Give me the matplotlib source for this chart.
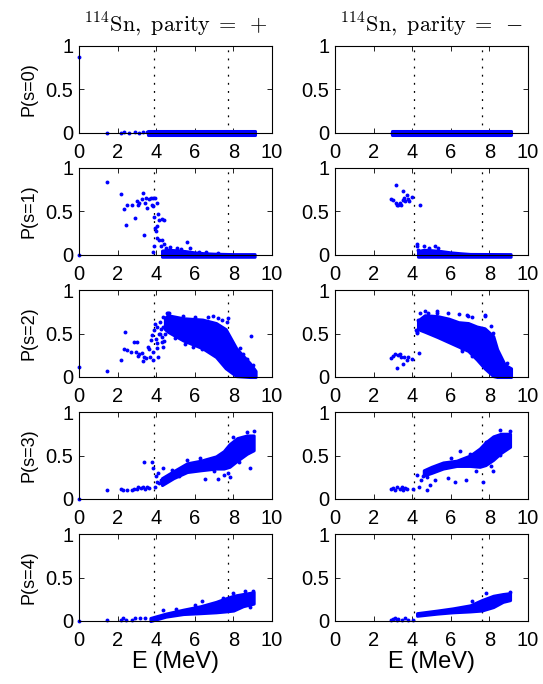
import matplotlib
matplotlib.use('Agg')
import matplotlib.pyplot as plt

plt.rcParams['font.family'] = ['Liberation Sans', 'DejaVu Sans']
plt.rcParams['mathtext.fontset'] = 'cm'

BLUE = (0, 0, 1)

# energies of the dashed vertical markers
lines_plus = [3.9, 7.7]
lines_minus = [4.1, 7.6]

# ---- parity = +  ----
plus_s0_E = [0.0, 1.43, 2.2, 2.35, 2.6, 2.9, 3.1, 3.3, 3.5]
plus_s0_P = [0.87, 0.0, 0.0, 0.012, 0.0, 0.01, 0.0, 0.015, 0.01]
plus_s0_bandE = [3.6, 9.1]
plus_s0_lo = [-0.02, -0.02]
plus_s0_hi = [0.025, 0.025]

plus_s1_E = [0.0, 1.43, 2.18, 2.33, 2.41, 2.50, 2.75, 2.89, 2.98, 3.04, 3.13, 3.25,
             3.30, 3.37, 3.42, 3.45, 3.50, 3.62, 3.71, 3.76, 3.81, 3.85, 3.88, 3.93,
             3.93, 3.98, 4.02, 4.05, 4.10, 4.16, 4.28, 4.40, 4.02, 4.16, 4.23, 4.31,
             3.90, 3.85, 4.40, 4.50, 5.58, 5.75, 4.7, 5.1, 5.3, 6.2, 6.6, 7.2]
plus_s1_P = [0.0, 0.84, 0.70, 0.53, 0.34, 0.58, 0.58, 0.43, 0.62, 0.57, 0.60, 0.64,
             0.71, 0.23, 0.60, 0.65, 0.54, 0.64, 0.65, 0.58, 0.56, 0.65, 0.44, 0.65,
             0.31, 0.28, 0.33, 0.60, 0.47, 0.40, 0.41, 0.40, 0.19, 0.17, 0.10, 0.17,
             0.10, 0.04, 0.13, 0.08, 0.15, 0.08, 0.09, 0.08, 0.07, 0.04, 0.03, 0.02]
plus_s1_bandE = [4.3, 4.6, 5.0, 5.5, 6.0, 6.5, 7.0, 8.0, 9.1]
plus_s1_lo = [-0.02] * 9
plus_s1_hi = [0.05, 0.06, 0.055, 0.045, 0.03, 0.02, 0.015, 0.01, 0.01]

plus_s2_E = [0.0, 1.43, 2.16, 2.33, 2.39, 2.50, 2.69, 2.85, 2.95, 3.02, 3.04, 3.13,
             3.25, 3.30, 3.37, 3.47, 3.56, 3.62, 3.68, 3.71, 3.76, 3.81, 3.85, 3.88,
             3.93, 3.97, 4.02, 4.05, 4.10, 4.16, 4.19, 4.23, 4.28, 4.33, 4.37, 4.40,
             4.45, 4.54, 4.59, 4.66, 8.90, 7.74, 7.65, 4.63, 5.38, 6.96, 7.22, 7.39,
             7.82, 8.34, 8.0, 6.35, 5.50, 4.98, 4.2, 4.29, 4.37, 4.02, 6.0, 6.7, 5.9,
             7.5, 8.5, 8.7, 9.0]
plus_s2_P = [0.12, 0.07, 0.19, 0.32, 0.52, 0.31, 0.29, 0.40, 0.29, 0.40, 0.24, 0.26,
             0.28, 0.18, 0.23, 0.22, 0.34, 0.32, 0.23, 0.42, 0.48, 0.29, 0.20, 0.54,
             0.61, 0.44, 0.57, 0.39, 0.23, 0.50, 0.63, 0.55, 0.46, 0.58, 0.69, 0.41,
             0.50, 0.73, 0.66, 0.73, 0.47, 0.68, 0.63, 0.73, 0.70, 0.70, 0.68, 0.65,
             0.36, 0.33, 0.28, 0.32, 0.38, 0.45, 0.49, 0.40, 0.35, 0.33, 0.69, 0.69, 0.35,
             0.15, 0.26, 0.21, 0.14]
plus_s2_bandE = [4.45, 4.6, 5.4, 6.4, 7.1, 7.6, 8.15, 8.85, 9.15]
plus_s2_lo = [0.55, 0.52, 0.42, 0.33, 0.23, 0.10, 0.01, 0.0, 0.0]
plus_s2_hi = [0.68, 0.71, 0.675, 0.66, 0.62, 0.55, 0.33, 0.16, 0.07]

plus_s3_E = [0.0, 1.43, 2.16, 2.30, 2.47, 2.73, 2.85, 2.99, 3.08, 3.20, 3.30, 3.37,
             3.42, 3.54, 3.64, 3.76, 3.85, 3.93, 3.98, 4.02, 4.10, 4.16, 4.25, 4.37,
             8.88, 6.52, 7.22, 7.82, 9.06, 8.69, 8.0, 6.27, 5.58, 4.8, 5.2, 7.0, 7.5,
             7.7, 8.3]
plus_s3_P = [0.0, 0.10, 0.11, 0.105, 0.10, 0.105, 0.12, 0.11, 0.14, 0.125, 0.14, 0.42,
             0.11, 0.14, 0.125, 0.42, 0.36, 0.14, 0.26, 0.20, 0.30, 0.18, 0.22, 0.36,
             0.36, 0.23, 0.23, 0.25, 0.78, 0.77, 0.71, 0.47, 0.45, 0.33, 0.26, 0.32,
             0.28, 0.30, 0.42]
plus_s3_bandE = [4.3, 4.9, 5.6, 6.3, 7.1, 7.5, 7.8, 8.2, 8.7, 9.05]
plus_s3_lo = [0.16, 0.24, 0.31, 0.33, 0.35, 0.35, 0.37, 0.44, 0.52, 0.56]
plus_s3_hi = [0.24, 0.32, 0.41, 0.44, 0.49, 0.55, 0.63, 0.70, 0.73, 0.73]

plus_s4_E = [0.0, 1.43, 2.16, 2.30, 2.44, 2.73, 2.90, 3.16, 3.42, 4.37, 6.36, 7.48, 8.88,
             7.98, 9.04, 8.6, 5.0, 6.0]
plus_s4_P = [0.0, 0.01, 0.015, 0.03, 0.015, 0.015, 0.03, 0.03, 0.04, 0.13, 0.23, 0.26, 0.16,
             0.32, 0.35, 0.34, 0.14, 0.18]
plus_s4_bandE = [3.7, 4.5, 5.4, 6.3, 7.1, 7.6, 8.0, 8.5, 9.05]
plus_s4_lo = [0.0, 0.05, 0.08, 0.09, 0.10, 0.11, 0.12, 0.17, 0.20]
plus_s4_hi = [0.035, 0.085, 0.13, 0.17, 0.22, 0.26, 0.29, 0.31, 0.33]

# ---- parity = -  ----
minus_s0_E = [2.94]
minus_s0_P = [0.0]
minus_s0_bandE = [2.95, 9.1]
minus_s0_lo = [-0.02, -0.02]
minus_s0_hi = [0.022, 0.022]

minus_s1_E = [2.90, 3.02, 3.16, 3.16, 3.19, 3.28, 3.37, 3.42, 3.51, 3.54, 3.59, 3.63,
              3.71, 3.77, 3.85, 3.97, 4.40, 4.27, 4.27, 4.30, 4.63, 4.89, 5.18, 5.32]
minus_s1_P = [0.64, 0.63, 0.60, 0.81, 0.57, 0.58, 0.60, 0.57, 0.63, 0.73, 0.65, 0.62,
              0.69, 0.64, 0.62, 0.67, 0.57, 0.10, 0.13, 0.06, 0.10, 0.08, 0.10, 0.08]
minus_s1_bandE = [4.3, 4.6, 5.0, 5.5, 6.0, 6.5, 7.0, 9.1]
minus_s1_lo = [-0.02] * 8
minus_s1_hi = [0.045, 0.06, 0.055, 0.045, 0.03, 0.02, 0.012, 0.01]

minus_s2_E = [2.90, 2.99, 3.11, 3.19, 3.25, 3.37, 3.42, 3.54, 3.57, 3.71, 3.77, 4.01,
              4.20, 4.23, 4.35, 4.32, 4.40, 4.58, 4.84, 5.28, 5.88, 6.40, 6.83, 7.09,
              7.77, 8.17, 8.06, 6.57, 7.17, 4.66, 5.27, 6.91, 7.77, 4.23, 6.56, 7.08,
              8.11, 8.29, 8.03, 8.20, 7.86, 8.6, 8.9]
minus_s2_P = [0.22, 0.24, 0.27, 0.10, 0.25, 0.27, 0.23, 0.15, 0.23, 0.20, 0.23, 0.21,
              0.54, 0.52, 0.28, 0.65, 0.73, 0.59, 0.74, 0.74, 0.73, 0.72, 0.71, 0.69,
              0.71, 0.51, 0.59, 0.30, 0.27, 0.76, 0.76, 0.70, 0.70, 0.51, 0.32, 0.24,
              0.24, 0.28, 0.36, 0.33, 0.44, 0.20, 0.16]
minus_s2_bandE = [4.3, 4.65, 5.3, 5.9, 6.4, 6.9, 7.35, 7.75, 8.2, 8.4, 8.8, 9.12]
minus_s2_lo = [0.55, 0.52, 0.46, 0.40, 0.35, 0.30, 0.20, 0.10, 0.01, 0.0, 0.0, 0.0]
minus_s2_hi = [0.65, 0.71, 0.70, 0.67, 0.63, 0.62, 0.58, 0.56, 0.47, 0.32, 0.14, 0.10]

minus_s3_E = [2.90, 2.99, 3.11, 3.23, 3.37, 3.46, 3.54, 3.63, 3.75, 4.03, 4.23, 4.35,
              4.44, 4.58, 4.75, 4.75, 4.93, 5.18, 5.87, 6.21, 6.50, 6.81, 7.33, 7.67,
              8.10, 8.19, 8.53, 8.55, 9.07, 7.84, 6.0, 7.0]
minus_s3_P = [0.11, 0.125, 0.105, 0.14, 0.11, 0.14, 0.10, 0.125, 0.11, 0.11, 0.28, 0.14,
              0.22, 0.26, 0.10, 0.25, 0.16, 0.22, 0.24, 0.20, 0.55, 0.22, 0.32, 0.20,
              0.38, 0.32, 0.51, 0.79, 0.78, 0.65, 0.47, 0.52]
minus_s3_bandE = [4.6, 5.0, 5.6, 6.3, 7.0, 7.5, 7.8, 8.2, 8.6, 9.07]
minus_s3_lo = [0.27, 0.30, 0.35, 0.38, 0.38, 0.37, 0.39, 0.45, 0.53, 0.60]
minus_s3_hi = [0.33, 0.37, 0.42, 0.44, 0.50, 0.58, 0.65, 0.72, 0.75, 0.75]

minus_s4_E = [2.90, 3.00, 3.11, 3.20, 3.28, 3.46, 3.63, 3.80, 4.06, 7.09, 7.84, 9.07]
minus_s4_P = [0.015, 0.025, 0.03, 0.015, 0.025, 0.015, 0.03, 0.015, 0.015, 0.23, 0.32, 0.33]
minus_s4_bandE = [4.25, 5.3, 6.1, 7.0, 7.6, 8.2, 8.7, 9.07]
minus_s4_lo = [0.06, 0.085, 0.10, 0.11, 0.12, 0.16, 0.22, 0.24]
minus_s4_hi = [0.09, 0.12, 0.145, 0.18, 0.24, 0.29, 0.31, 0.32]

plus_panels = [
    (plus_s0_E, plus_s0_P, plus_s0_bandE, plus_s0_lo, plus_s0_hi),
    (plus_s1_E, plus_s1_P, plus_s1_bandE, plus_s1_lo, plus_s1_hi),
    (plus_s2_E, plus_s2_P, plus_s2_bandE, plus_s2_lo, plus_s2_hi),
    (plus_s3_E, plus_s3_P, plus_s3_bandE, plus_s3_lo, plus_s3_hi),
    (plus_s4_E, plus_s4_P, plus_s4_bandE, plus_s4_lo, plus_s4_hi),
]
minus_panels = [
    (minus_s0_E, minus_s0_P, minus_s0_bandE, minus_s0_lo, minus_s0_hi),
    (minus_s1_E, minus_s1_P, minus_s1_bandE, minus_s1_lo, minus_s1_hi),
    (minus_s2_E, minus_s2_P, minus_s2_bandE, minus_s2_lo, minus_s2_hi),
    (minus_s3_E, minus_s3_P, minus_s3_bandE, minus_s3_lo, minus_s3_hi),
    (minus_s4_E, minus_s4_P, minus_s4_bandE, minus_s4_lo, minus_s4_hi),
]

W, H = 543, 684
fig = plt.figure(figsize=(W / 100, H / 100), dpi=100)

columns = [
    (79, plus_panels, lines_plus, r'$^{114}\mathrm{Sn},\ \mathrm{parity}\;=\;+$'),
    (335, minus_panels, lines_minus, r'$^{114}\mathrm{Sn},\ \mathrm{parity}\;=\;-$'),
]

for col, (left_px, panels, vlines, title) in enumerate(columns):
    for row, (E, P, bE, lo, hi) in enumerate(panels):
        bottom_px = 133 + 122 * row
        ax = fig.add_axes([left_px / W, 1 - bottom_px / H, 193 / W, 87 / H])
        for v in vlines:
            ax.axvline(v, color='k', lw=0.9, ls=(0, (1.5, 5)), zorder=1)
        ax.fill_between(bE, lo, hi, color=BLUE, lw=2.2, joinstyle='round',
                        clip_on=False, zorder=3)
        ax.plot(E, P, 'o', color=BLUE, ms=2.8, mew=0, clip_on=False, zorder=3)

        ax.set_xlim(0, 10)
        ax.set_ylim(0, 1)
        ax.set_xticks([0, 2, 4, 6, 8, 10])
        ax.set_yticks([0, 0.5, 1])
        ax.set_yticklabels(['0', '0.5', '1'])
        ax.tick_params(direction='in', top=True, right=True, length=3.5,
                       width=0.6, labelsize=14.5)
        ax.tick_params(axis='x', pad=7)
        ax.tick_params(axis='y', pad=4)
        for sp in ax.spines.values():
            sp.set_linewidth(0.8)
            sp.set_zorder(4)

        if col == 0:
            ax.set_ylabel('P(s=%d)' % row, fontsize=13, labelpad=6)
        if row == 0:
            ax.set_title(title, fontsize=16, pad=11)
        if row == 4:
            ax.set_xlabel('E (MeV)', fontsize=17, labelpad=1)

fig.savefig('out.png', dpi=100)
